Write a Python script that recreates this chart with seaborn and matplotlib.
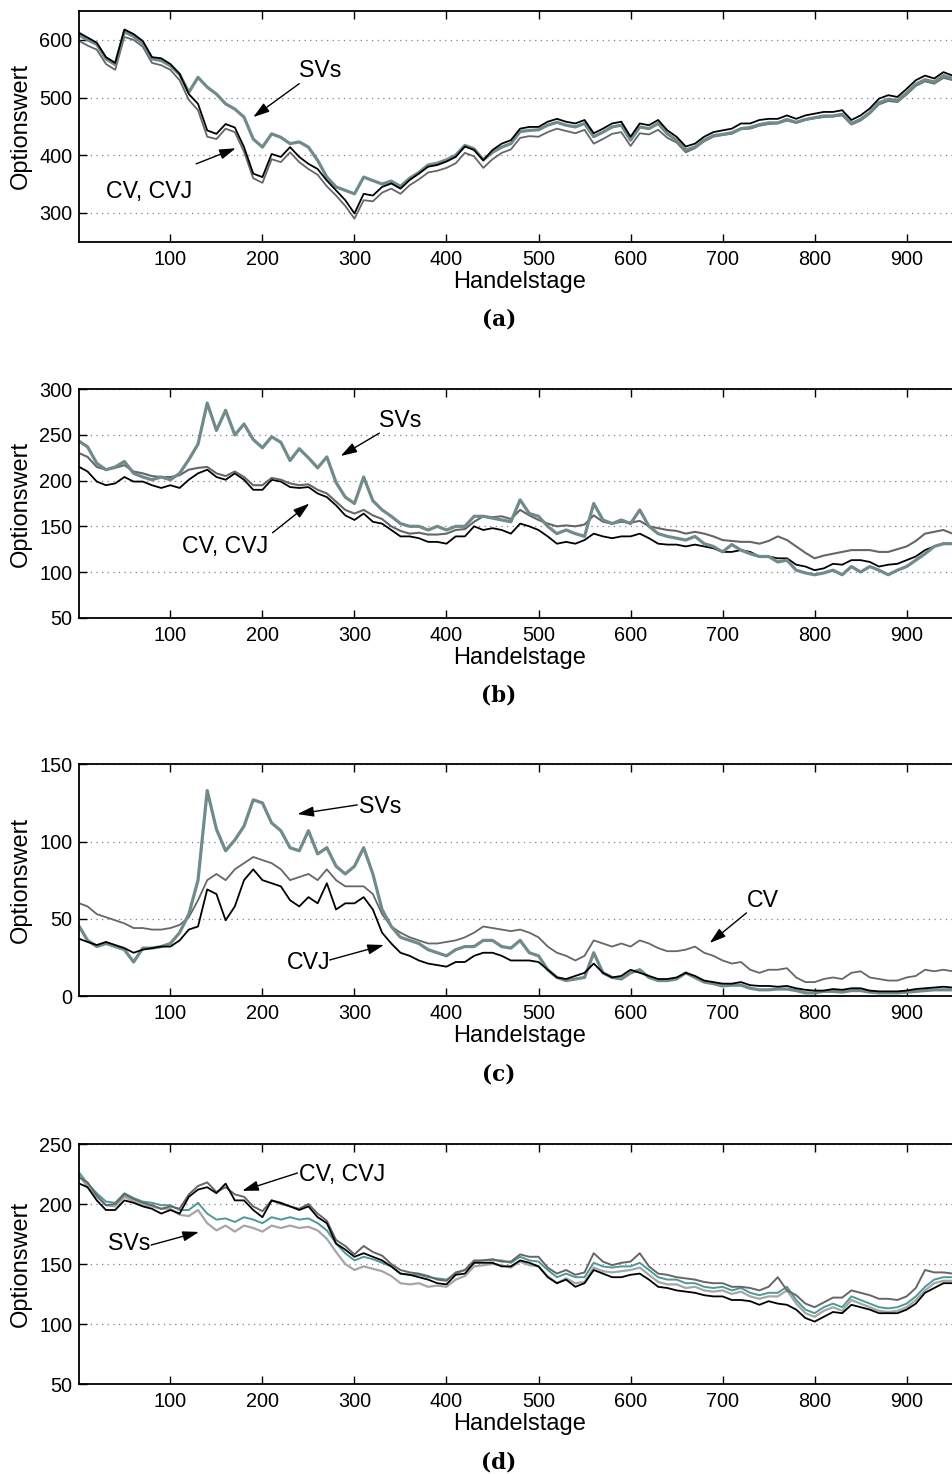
import numpy as np
import pandas as pd
import seaborn as sns
import matplotlib
matplotlib.use("Agg")
import matplotlib.pyplot as plt

# ---------------- data (every 10 trading days) ----------------
days = [1] + list(range(10, 951, 10))

a_cvj = [612, 604, 595, 570, 560, 618, 610, 598, 570, 568,
         558, 541, 506, 489, 443, 437, 454, 448, 414, 368,
         362, 402, 397, 414, 397, 385, 376, 356, 339, 322,
         299, 333, 330, 345, 351, 342, 357, 368, 380, 383,
         389, 397, 415, 409, 391, 409, 420, 426, 446, 449,
         449, 458, 463, 458, 455, 461, 438, 446, 455, 458,
         432, 455, 452, 461, 443, 432, 415, 420, 432, 440,
         443, 446, 455, 455, 461, 463, 463, 469, 463, 469,
         472, 475, 475, 478, 461, 469, 481, 498, 504, 501,
         515, 530, 538, 533, 544, 538]
a_cv = [598, 590, 583, 558, 548, 605, 600, 588, 560, 556,
        548, 530, 496, 478, 432, 428, 446, 440, 406, 360,
        352, 393, 388, 405, 388, 376, 366, 346, 330, 312,
        290, 322, 320, 335, 342, 333, 348, 358, 370, 373,
        378, 386, 404, 398, 378, 393, 404, 410, 430, 433,
        432, 440, 446, 442, 438, 444, 420, 428, 437, 440,
        416, 438, 436, 444, 430, 422, 405, 412, 424, 432,
        435, 437, 445, 446, 451, 454, 455, 460, 456, 461,
        464, 466, 467, 469, 453, 460, 472, 488, 494, 492,
        505, 520, 528, 524, 534, 530]
a_sv = [608, 600, 592, 567, 557, 614, 606, 594, 567, 564,
        555, 540, 509, 535, 518, 506, 489, 480, 466, 428,
        414, 437, 431, 420, 423, 414, 391, 362, 345, 339,
        333, 362, 356, 350, 355, 346, 360, 370, 383, 386,
        392, 400, 417, 411, 392, 405, 414, 420, 441, 443,
        444, 452, 457, 452, 449, 455, 432, 440, 449, 452,
        426, 449, 446, 455, 437, 426, 409, 414, 426, 434,
        436, 439, 446, 448, 453, 456, 456, 462, 457, 462,
        465, 468, 468, 471, 455, 462, 474, 491, 497, 495,
        508, 523, 531, 527, 538, 533]

b_cvj = [215, 210, 199, 195, 197, 204, 199, 199, 195, 192,
         195, 192, 201, 208, 212, 204, 201, 208, 201, 190,
         190, 201, 199, 193, 192, 193, 186, 182, 173, 162,
         157, 164, 155, 153, 146, 139, 139, 137, 133, 133,
         131, 139, 139, 150, 146, 148, 146, 142, 153, 150,
         146, 139, 131, 133, 131, 135, 142, 139, 137, 139,
         139, 142, 137, 131, 130, 130, 128, 130, 128, 126,
         122, 122, 124, 122, 117, 117, 115, 115, 108, 106,
         102, 104, 109, 108, 113, 113, 111, 106, 108, 109,
         113, 117, 124, 128, 131, 131]
b_cv = [230, 226, 215, 212, 214, 217, 210, 208, 205, 204,
        204, 206, 212, 214, 215, 208, 205, 210, 204, 195,
        195, 203, 201, 197, 195, 196, 190, 186, 177, 168,
        164, 168, 162, 158, 150, 145, 142, 143, 141, 141,
        142, 146, 147, 155, 161, 160, 161, 158, 168, 162,
        157, 153, 150, 151, 150, 152, 162, 155, 153, 155,
        154, 156, 150, 148, 146, 145, 142, 144, 142, 139,
        135, 134, 133, 133, 131, 134, 139, 135, 128, 121,
        115, 118, 120, 122, 124, 124, 124, 122, 122, 125,
        128, 134, 142, 144, 146, 142]
b_sv = [243, 237, 219, 212, 215, 221, 208, 204, 201, 204,
        201, 208, 223, 240, 285, 255, 277, 250, 262, 245,
        236, 248, 242, 222, 235, 225, 214, 226, 198, 182,
        175, 204, 178, 168, 161, 153, 150, 150, 146, 150,
        146, 150, 150, 161, 161, 159, 157, 155, 179, 164,
        161, 150, 142, 146, 142, 139, 175, 157, 153, 157,
        153, 168, 150, 142, 139, 137, 135, 139, 131, 128,
        122, 130, 124, 120, 117, 117, 111, 113, 102, 99,
        97, 99, 102, 97, 106, 100, 106, 102, 97, 102,
        106, 113, 120, 128, 131, 131]

c_cvj = [37, 35, 33, 35, 33, 31, 28, 30, 31, 32,
         32, 36, 43, 45, 69, 66, 49, 58, 75, 82,
         75, 73, 71, 62, 58, 64, 60, 73, 56, 60,
         60, 64, 56, 41, 34, 28, 26, 23, 21, 20,
         19, 22, 22, 26, 28, 28, 26, 23, 23, 23,
         22, 17, 12, 11, 13, 15, 21, 15, 12, 13,
         17, 15, 13, 11, 11, 12, 15, 13, 10, 9,
         8, 8, 9, 7, 6.5, 6.5, 6, 6.5, 5, 4,
         3.5, 3.5, 4.5, 4, 5, 5, 3.5, 3, 3, 3,
         3.5, 4.5, 5, 5.5, 6, 5.5]
c_cv = [60, 58, 53, 51, 49, 47, 44, 44, 43, 43,
        44, 46, 51, 62, 75, 79, 75, 82, 86, 90,
        88, 86, 82, 75, 77, 79, 75, 82, 75, 71,
        71, 71, 66, 53, 45, 41, 38, 36, 34, 34,
        35, 36, 38, 41, 45, 44, 43, 42, 43, 41,
        38, 32, 28, 26, 23, 26, 36, 34, 32, 34,
        32, 36, 34, 31, 29, 29, 30, 32, 28, 26,
        23, 21, 22, 17, 15, 17, 17, 18, 12, 9,
        9, 11, 12, 11, 15, 16, 12, 11, 10, 10,
        12, 13, 17, 16, 17, 16]
c_sv = [45, 36, 32, 34, 32, 30, 22, 31, 31, 32,
        34, 41, 53, 75, 133, 108, 94, 101, 110, 127,
        125, 112, 107, 96, 94, 107, 92, 96, 84, 79,
        84, 96, 79, 56, 45, 38, 36, 34, 30, 28,
        26, 30, 32, 32, 36, 36, 32, 31, 36, 28,
        26, 17, 12, 10, 11, 12, 28, 15, 12, 11,
        15, 17, 12, 10, 10, 11, 15, 12, 9, 8,
        6.5, 7, 7, 5, 4, 4, 4.5, 4.5, 3.5, 2,
        2, 3, 3, 2.5, 3.5, 3.5, 2.5, 2, 2, 2,
        2.5, 3, 3.5, 4, 4, 4]

d_cvj = [217, 214, 203, 195, 195, 203, 201, 198, 196, 192,
         195, 192, 206, 212, 214, 209, 217, 203, 203, 195,
         189, 203, 201, 198, 195, 198, 189, 184, 167, 162,
         156, 159, 156, 153, 148, 142, 141, 139, 137, 134,
         133, 141, 142, 151, 151, 151, 148, 148, 153, 151,
         148, 139, 134, 137, 131, 134, 145, 142, 139, 139,
         141, 142, 137, 131, 130, 128, 127, 126, 124, 123,
         123, 120, 120, 119, 116, 119, 117, 116, 112, 105,
         102, 106, 110, 109, 116, 114, 112, 109, 109, 109,
         112, 117, 126, 130, 134, 134]
d_cv = [222, 218, 207, 199, 200, 208, 204, 201, 199, 196,
        198, 196, 208, 215, 218, 210, 214, 208, 206, 198,
        194, 203, 200, 198, 196, 200, 192, 186, 170, 165,
        158, 165, 160, 157, 150, 145, 143, 142, 140, 137,
        136, 143, 145, 153, 153, 154, 152, 152, 158, 156,
        156, 147, 142, 145, 141, 143, 159, 152, 149, 151,
        152, 159, 148, 142, 141, 139, 138, 137, 135, 134,
        134, 131, 131, 130, 128, 131, 139, 128, 124, 117,
        114, 118, 122, 122, 128, 126, 124, 121, 121, 120,
        123, 130, 145, 143, 143, 142]
d_sv = [226, 217, 209, 202, 201, 209, 205, 202, 201, 199,
        199, 195, 195, 201, 192, 187, 188, 185, 189, 187,
        184, 189, 187, 189, 187, 188, 184, 178, 167, 159,
        153, 156, 154, 151, 148, 142, 141, 141, 139, 138,
        137, 142, 145, 152, 153, 153, 153, 151, 156, 153,
        152, 145, 139, 142, 139, 139, 151, 148, 147, 148,
        148, 151, 145, 139, 137, 137, 134, 134, 131, 130,
        131, 128, 130, 126, 124, 126, 126, 131, 120, 112,
        109, 114, 117, 114, 123, 120, 117, 114, 113, 114,
        117, 123, 131, 137, 139, 139]
d_sv2 = [224, 214, 206, 199, 198, 206, 202, 199, 198, 196,
         196, 191, 190, 195, 184, 178, 182, 177, 182, 180,
         177, 182, 180, 182, 180, 181, 178, 171, 160, 150,
         145, 148, 146, 144, 140, 134, 133, 134, 131, 132,
         131, 137, 140, 148, 149, 150, 149, 147, 152, 149,
         148, 140, 134, 138, 134, 135, 147, 144, 143, 144,
         145, 147, 141, 135, 133, 133, 130, 131, 128, 127,
         128, 125, 127, 123, 121, 123, 123, 128, 117, 109,
         106, 111, 114, 111, 120, 117, 114, 111, 110, 111,
         114, 120, 128, 134, 136, 136]

panel_letters = ["(a)", "(b)", "(c)", "(d)"]
ylims = [(250, 650), (50, 300), (0, 150), (50, 250)]
yticks = [[300, 400, 500, 600], [50, 100, 150, 200, 250, 300],
          [0, 50, 100, 150], [50, 100, 150, 200, 250]]
xticks = [100, 200, 300, 400, 500, 600, 700, 800, 900]

# annotations: (text, text_pos, arrow_tail, arrow_tip) in data units
annots = [
    [("SVs", (263, 547), (240, 524), (190, 466)),
     ("CV, CVJ", (77, 337), (128, 385), (171, 412))],
    [("SVs", (350, 266), (327, 252), (285, 227)),
     ("CV, CVJ", (160, 128), (211, 143), (251, 175))],
    [("SVs", (328, 123), (303, 123.7), (238, 117.8)),
     ("CVJ", (250, 22), (273, 23.3), (332, 33)),
     ("CV", (744, 62), (726, 53.8), (686, 34.3))],
    [("CV, CVJ", (287, 225), (238, 225.8), (178, 211)),
     ("SVs", (55, 166.7), (79, 165.8), (131, 176.7))],
]

C_CVJ = "#000000"
C_CV = "#666666"
C_SV = "#6f8b8b"
C_SV_D = "#4d9999"
C_SV_L = "#a6a6a6"

series = [
    [(a_cv, C_CV, 1.3), (a_sv, C_SV, 2.3), (a_cvj, C_CVJ, 1.3)],
    [(b_cvj, C_CVJ, 1.3), (b_cv, C_CV, 1.5), (b_sv, C_SV, 2.3)],
    [(c_cv, C_CV, 1.3), (c_sv, C_SV, 2.3), (c_cvj, C_CVJ, 1.3)],
    [(d_sv2, C_SV_L, 1.6), (d_sv, C_SV_D, 1.4), (d_cv, C_CV, 1.4), (d_cvj, C_CVJ, 1.3)],
]

# ---------------- figure ----------------
sns.set_style("ticks")
plt.rcParams["font.family"] = ["Liberation Sans", "DejaVu Sans"]
plt.rcParams["text.color"] = "black"
plt.rcParams["axes.labelcolor"] = "black"
plt.rcParams["xtick.color"] = "black"
plt.rcParams["ytick.color"] = "black"

W, H = 952, 1474
fig = plt.figure(figsize=(W / 100, H / 100), dpi=100)

# axes boxes in pixels: (top, bottom)
boxes = [(11, 241.7), (389.3, 617.7), (764.3, 996.0), (1144.0, 1384.0)]
left_px, right_px = 79.3, 960.0

for i, (top, bot) in enumerate(boxes):
    ax = fig.add_axes([left_px / W, 1 - bot / H, (right_px - left_px) / W, (bot - top) / H])
    for vals, col, lw in series[i]:
        sns.lineplot(x=days, y=vals, ax=ax, color=col, linewidth=lw, estimator=None)
    ax.set_xlim(1, 958)
    ax.set_ylim(*ylims[i])
    ax.set_xticks(xticks)
    ax.set_yticks(yticks[i])
    ax.tick_params(direction="in", length=6, width=1, top=True, right=True,
                   labelsize=14.3, colors="black", labelcolor="black")
    ax.tick_params(axis="x", pad=6)
    ax.tick_params(axis="y", pad=5)
    for s in ax.spines.values():
        s.set_linewidth(1.3)
        s.set_color("black")
    ax.yaxis.grid(True, linestyle=(0, (1, 3.5)), color="#808080", linewidth=0.9)
    ax.xaxis.grid(False)
    ax.set_axisbelow(True)

    hpx = bot - top
    wpx = right_px - left_px
    ax.set_xlabel("Handelstage", fontsize=17, color="black")
    ax.xaxis.set_label_coords(0.5, -40.0 / hpx)
    ax.xaxis.label.set_verticalalignment("center")
    ax.set_ylabel("Optionswert", fontsize=17, color="black")
    ax.yaxis.set_label_coords(-(left_px - 21) / wpx, 0.5)
    ax.yaxis.label.set_verticalalignment("center")

    for txt, tpos, tail, tip in annots[i]:
        ax.text(tpos[0], tpos[1], txt, fontsize=16.7, ha="center", va="center", color="black")
        ax.annotate("", xy=tip, xytext=tail,
                    arrowprops=dict(arrowstyle="-|>,head_length=0.7,head_width=0.22",
                                    color="black", lw=1.0, shrinkA=0, shrinkB=0,
                                    mutation_scale=14))

    fig.text(499 / W, 1 - (bot + 78) / H, panel_letters[i], ha="center", va="center",
             fontsize=15.5, fontweight="bold", family="DejaVu Serif", color="black")

fig.savefig("out.png", dpi=100)
